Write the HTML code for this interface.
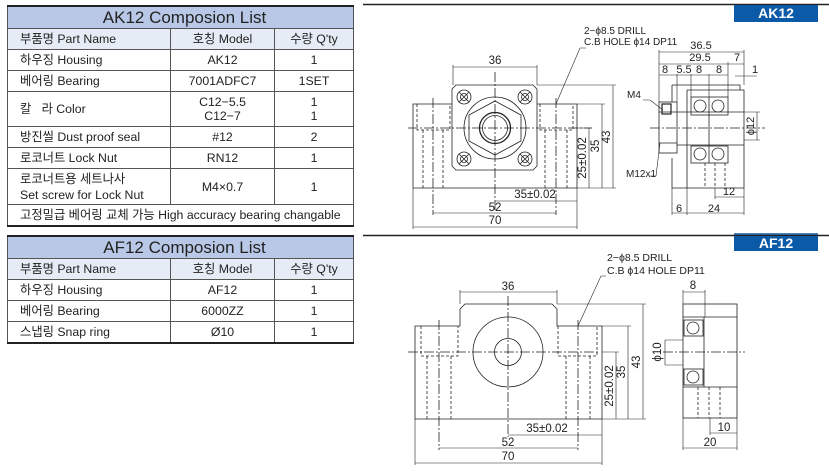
<!DOCTYPE html>
<html><head><meta charset="utf-8"><style>
html,body{margin:0;padding:0;width:829px;height:471px;background:#fff;overflow:hidden;font-family:"Liberation Sans","Noto Sans CJK KR","NanumGothic",sans-serif;}
table{position:absolute;border-collapse:collapse;font-size:12.3px;color:#222;table-layout:fixed;}
td{border:1px solid #555;padding:0 4px 0 12px;height:20px;line-height:14px;white-space:nowrap;}
td.c{text-align:center;padding:0 4px;}
tr.t td{background:#b8c8e6;font-size:17px;text-align:center;height:21px;border-top:2px solid #222;}
tr.h td{background:#e6ecf6;}
svg{position:absolute;left:0;top:0;}
</style></head><body>
<table style="left:7px;top:5px;width:346px;">
<colgroup><col style="width:163px"><col style="width:104px"><col style="width:79px"></colgroup>
<tr class="t"><td colspan="3">AK12 Composion List</td></tr>
<tr class="h"><td>부품명 Part Name</td><td class="c">호칭 Model</td><td class="c">수량 Q'ty</td></tr>
<tr><td>하우징 Housing</td><td class="c">AK12</td><td class="c">1</td></tr>
<tr><td>베어링 Bearing</td><td class="c">7001ADFC7</td><td class="c">1SET</td></tr>
<tr><td style="height:34px">칼&nbsp;&nbsp;&nbsp;라 Color</td><td class="c">C12−5.5<br>C12−7</td><td class="c">1<br>1</td></tr>
<tr><td>방진씰 Dust proof seal</td><td class="c">#12</td><td class="c">2</td></tr>
<tr><td>로코너트 Lock Nut</td><td class="c">RN12</td><td class="c">1</td></tr>
<tr><td style="height:35px;line-height:16px">로코너트용 세트나사<br>Set screw for Lock Nut</td><td class="c">M4×0.7</td><td class="c">1</td></tr>
<tr><td colspan="3" style="border-bottom:2px solid #222">고정밀급 베어링 교체 가능 High accuracy bearing changable</td></tr>
</table>
<table style="left:7px;top:235px;width:346px;">
<colgroup><col style="width:163px"><col style="width:104px"><col style="width:79px"></colgroup>
<tr class="t"><td colspan="3">AF12 Composion List</td></tr>
<tr class="h"><td>부품명 Part Name</td><td class="c">호칭 Model</td><td class="c">수량 Q'ty</td></tr>
<tr><td>하우징 Housing</td><td class="c">AF12</td><td class="c">1</td></tr>
<tr><td>베어링 Bearing</td><td class="c">6000ZZ</td><td class="c">1</td></tr>
<tr><td style="border-bottom:2px solid #222">스냅링 Snap ring</td><td class="c" style="border-bottom:2px solid #222">Ø10</td><td class="c" style="border-bottom:2px solid #222">1</td></tr>
</table>
<svg width="829" height="471" viewBox="0 0 829 471" font-family="Liberation Sans, sans-serif" font-size="11" fill="none" stroke="#222" stroke-width="0.8">
<!-- AK12 -->
<line x1="363" y1="4.5" x2="829" y2="4.5" stroke-width="1.5"/>
<rect x="734" y="5" width="84" height="17" fill="#0b5aa8" stroke="none"/>
<text x="776" y="18" fill="#fff" stroke="none" font-size="14" font-weight="bold" text-anchor="middle">AK12</text>
<line x1="734" y1="234" x2="818" y2="234" stroke="#0b5aa8" stroke-width="1.5"/>
<path d="M413 104 H452 V89 L456 85 H533 L537 89 V104 H577 V188 H413 Z"/>
<path d="M452 104 V166 L456 170 H533 L537 166 V104"/>
<g stroke-dasharray="3,2">
<path d="M417 104 V130 H450 V104 M423 130 V188 M443 130 V188"/>
<path d="M540 104 V130 H573 V104 M545 130 V188 M567 130 V188"/>
</g>
<circle cx="495" cy="128" r="31"/>
<polygon points="469,115 495,101 521,115 521,141 495,155 469,141"/>
<circle cx="495" cy="128" r="15.5" stroke-width="1.3"/>
<circle cx="495" cy="128" r="12.5"/>
<g>
<circle cx="464" cy="97" r="7"/><circle cx="464" cy="97" r="3.5"/><path d="M459 92 L469 102 M469 92 L459 102"/>
<circle cx="525" cy="97" r="7"/><circle cx="525" cy="97" r="3.5"/><path d="M520 92 L530 102 M530 92 L520 102"/>
<circle cx="464" cy="159" r="7"/><circle cx="464" cy="159" r="3.5"/><path d="M459 154 L469 164 M469 154 L459 164"/>
<circle cx="525" cy="159" r="7"/><circle cx="525" cy="159" r="3.5"/><path d="M520 154 L530 164 M530 154 L520 164"/>
</g>
<g stroke-dasharray="10,2,2,2">
<line x1="408" y1="128" x2="592" y2="128"/>
<line x1="495" y1="72" x2="495" y2="212"/>
<line x1="433" y1="98" x2="433" y2="215"/>
<line x1="556" y1="98" x2="556" y2="215"/>
</g>
<g stroke-width="0.6">
<path d="M453 85 V65 M537 85 V65 M453 67 H537"/>
<path d="M537 85 H616 M577 104 H605 M577 128 H592 M577 188 H616"/>
<path d="M613 85 V188 M602 104 V188 M589 128 V188"/>
<path d="M413 188 V229 M577 188 V229 M495 201 H577 M433 213 H556 M413 227 H577"/>
<path d="M556 104 L580 48 H586"/>
</g>
<g fill="#222" stroke="none" font-size="11.5">
<text x="495" y="64" text-anchor="middle">36</text>
<text x="535" y="198" text-anchor="middle">35±0.02</text>
<text x="495" y="211" text-anchor="middle">52</text>
<text x="495" y="224" text-anchor="middle">70</text>
<text transform="translate(610,137) rotate(-90)" text-anchor="middle">43</text>
<text transform="translate(599,146) rotate(-90)" text-anchor="middle">35</text>
<text transform="translate(586,158) rotate(-90)" text-anchor="middle">25±0.02</text>
<text x="584" y="34" font-size="10">2−ϕ8.5 DRILL</text>
<text x="584" y="45" font-size="10">C.B HOLE ϕ14 DP11</text>
</g>
<path d="M672 85 H740 V90 M687 90 H744 V188 H672 V158 M672 85 V102 M687 90 V188"/>
<rect x="659" y="102" width="18" height="51"/>
<path d="M659 112 H677 M659 143 H677 M677 112 H744 M677 145 H744"/>
<rect x="691" y="97" width="37" height="18"/>
<rect x="691" y="146" width="37" height="17"/>
<circle cx="700" cy="106" r="6"/><circle cx="718" cy="106" r="6"/>
<circle cx="700" cy="154" r="6"/><circle cx="718" cy="154" r="6"/>
<line x1="709" y1="97" x2="709" y2="163"/>
<rect x="662" y="104" width="9" height="10" stroke-width="1.2"/>
<g stroke-dasharray="3,2"><path d="M705 163 V188 M715 163 V188 M725 163 V188"/></g>
<line x1="650" y1="128" x2="765" y2="128" stroke-dasharray="10,2,2,2"/>
<g stroke-width="0.6">
<path d="M659 50 V102 M744 50 V85 M728 62 V97 M677 74 V102 M691 74 V97 M709 74 V97"/>
<path d="M659 52 H744 M659 64 H744 M659 75 H728 M735 76 H757"/>
<path d="M744 112 H760 M744 140 H760 M757 112 V140"/>
<path d="M715 188 V199 M744 188 V215 M672 188 V215 M687 188 V215 M715 197 H744 M672 213 H744"/>
<path d="M643 100 H650 L663 110 M660 143 L656 176 H650"/>
</g>
<g fill="#222" stroke="none" font-size="11">
<text x="701" y="49" text-anchor="middle">36.5</text>
<text x="700" y="61" text-anchor="middle">29.5</text>
<text x="737" y="61" text-anchor="middle">7</text>
<text x="665" y="73" text-anchor="middle">8</text>
<text x="684" y="73" text-anchor="middle">5.5</text>
<text x="699" y="73" text-anchor="middle">8</text>
<text x="719" y="73" text-anchor="middle">8</text>
<text x="755" y="73" text-anchor="middle">1</text>
<text x="627" y="98" font-size="10">M4</text>
<text x="626" y="177" font-size="10">M12x1</text>
<text transform="translate(754,126) rotate(-90)" text-anchor="middle">ϕ12</text>
<text x="729" y="195" text-anchor="middle">12</text>
<text x="679" y="212" text-anchor="middle">6</text>
<text x="714" y="212" text-anchor="middle">24</text>
</g>
<!-- AF12 -->
<line x1="363" y1="235.5" x2="829" y2="235.5" stroke-width="1.5"/>
<rect x="734" y="236" width="84" height="15" fill="#0b5aa8" stroke="none"/>
<text x="776" y="248" fill="#fff" stroke="none" font-size="14" font-weight="bold" text-anchor="middle">AF12</text>
<path d="M415 326 H460 V309 L465 304 H552 L557 309 V326 H602 V419 H415 Z"/>
<g stroke-dasharray="3,2">
<path d="M421 326 V356 H458 V326 M427 356 V419 M451 356 V419"/>
<path d="M558 326 V356 H597 V326 M566 356 V419 M590 356 V419"/>
</g>
<circle cx="508" cy="352" r="35"/>
<circle cx="508" cy="352" r="13.5"/>
<g stroke-dasharray="10,2,2,2">
<line x1="408" y1="352" x2="600" y2="352"/>
<line x1="508" y1="296" x2="508" y2="437"/>
<line x1="439" y1="320" x2="439" y2="450"/>
<line x1="578" y1="320" x2="578" y2="450"/>
</g>
<g stroke-width="0.6">
<path d="M460 304 V290 M557 304 V290 M460 292 H557"/>
<path d="M557 304 H646 M602 326 H631 M602 352 H619 M602 419 H646"/>
<path d="M643 304 V419 M628 326 V419 M616 352 V419"/>
<path d="M415 419 V465 M602 419 V465 M508 435 H602 M439 448 H578 M415 463 H602"/>
<path d="M578 326 L601 276 H606"/>
</g>
<g fill="#222" stroke="none" font-size="11.5">
<text x="508" y="290" text-anchor="middle">36</text>
<text x="547" y="432" text-anchor="middle">35±0.02</text>
<text x="508" y="446" text-anchor="middle">52</text>
<text x="508" y="460" text-anchor="middle">70</text>
<text transform="translate(640,362) rotate(-90)" text-anchor="middle">43</text>
<text transform="translate(625,372) rotate(-90)" text-anchor="middle">35</text>
<text transform="translate(613,386) rotate(-90)" text-anchor="middle">25±0.02</text>
<text x="607" y="261" font-size="10.5">2−ϕ8.5 DRILL</text>
<text x="607" y="274" font-size="10.5">C.B ϕ14 HOLE DP11</text>
</g>
<rect x="683" y="304" width="54" height="114"/>
<path d="M683 317 H737 M683 387 H737 M704 317 V387"/>
<rect x="684" y="320" width="19" height="16"/>
<rect x="684" y="369" width="19" height="16"/>
<circle cx="693" cy="328" r="6"/><circle cx="693" cy="377" r="6"/>
<g stroke-dasharray="3,2"><path d="M698 387 V418 M709 387 V418 M720 387 V418"/></g>
<line x1="663" y1="352" x2="745" y2="352" stroke-dasharray="10,2,2,2"/>
<g stroke-width="0.6">
<path d="M683 304 V290 M705 317 V290 M683 292 H705"/>
<path d="M665 340 H683 M665 365 H683 M665 340 V365"/>
<path d="M683 418 V450 M737 418 V450 M710 418 V435 M710 433 H737 M683 448 H737"/>
</g>
<g fill="#222" stroke="none" font-size="11.5">
<text x="693" y="289" text-anchor="middle">8</text>
<text transform="translate(661,352) rotate(-90)" text-anchor="middle">ϕ10</text>
<text x="724" y="431" text-anchor="middle">10</text>
<text x="710" y="446" text-anchor="middle">20</text>
</g>
</svg>
</body></html>
